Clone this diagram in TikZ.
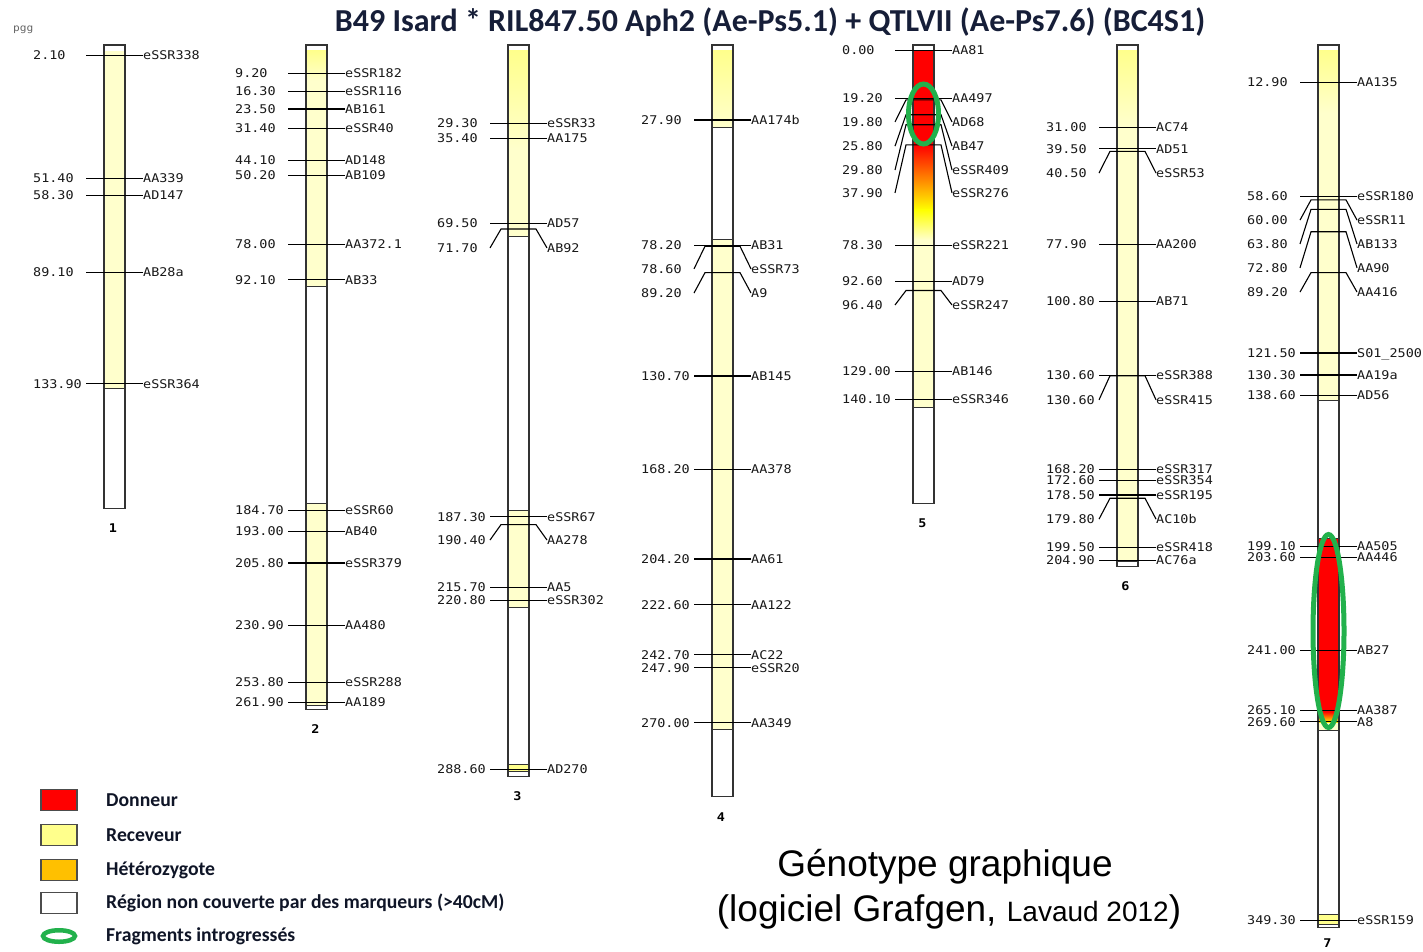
\documentclass[tikz,border=0pt]{standalone}
\usepackage{fontspec}
\setmainfont{Liberation Sans}
\newfontfamily\mkfont[FakeStretch=1.12]{DejaVu Sans Mono}
\newfontfamily\legfont{Carlito}
\usepackage{xcolor}
\usetikzlibrary{shapes.geometric}

\definecolor{recvcol}{RGB}{255,255,204}
\definecolor{recvtop}{RGB}{255,255,140}
\definecolor{donorcol}{RGB}{255,0,0}
\definecolor{hetcol}{RGB}{255,192,0}
\definecolor{fraggreen}{RGB}{34,177,76}
\definecolor{titlecol}{RGB}{22,30,56}

\tikzset{
  chrbox/.style={draw=black!80, line width=1.1pt},
  segline/.style={draw=black!80, line width=0.8pt},
  mk/.style={line width=1.1pt},
  cmlab/.style={font=\mkfont\fontsize{12}{12}\selectfont, text=black!90, anchor=west, inner sep=0pt, text height=8.5pt, text depth=0pt},
  mklab/.style={cmlab},
  chrnum/.style={font=\mkfont\bfseries\fontsize{12}{12}\selectfont},
  introg/.style={ellipse, draw=fraggreen, line width=5pt, inner sep=0pt},
  legbox/.style={draw=black!70, line width=1.2pt, minimum width=36pt, minimum height=21pt, inner sep=0pt},
  legtxt/.style={font=\legfont\bfseries\fontsize{19.7}{20}\selectfont, text=titlecol!70!black, anchor=west, inner sep=0pt},
}

% markers of one chromosome: value / label position / name
\newcommand\markers[2]{%
  \foreach \cv/\ly/\nm [count=\i] in {#2} {
    \node[cmlab] (v#1-\i) at (-71,\ly) {\cv};
    \node[mklab] (m#1-\i) at (39,\ly) {\nm};
    \draw[mk] ([xshift=53pt]v#1-\i.west) -- (-7,\cv) -- (28,\cv) -- (m#1-\i.west);
  }%
}

\begin{document}
\begin{tikzpicture}[x=1pt, y=-1pt]
\useasboundingbox[fill=white] (0,0) rectangle (1423,951);

\node[font=\legfont\bfseries\fontsize{32}{33}\selectfont, text=titlecol] (title) at (770,22)
  {B49 Isard * RIL847.50 Aph2 (Ae-Ps5.1) + QTLVII (Ae-Ps7.6) (BC4S1)};
\node[font=\mkfont\fontsize{10}{10}\selectfont, text=black!60, anchor=west, inner sep=0pt] (pgg) at (13,30) {pgg};

% chromosome 1
\begin{scope}[shift={(104,50.5)}, y=-2.49pt]
  \fill[recvcol] (0,0) rectangle (21,135.5);
  \draw[segline] (0,135.5) -- (21,135.5);
  \draw[chrbox] (0,-2.2) rectangle (21,184);
  \markers{1}{2.10/2.10/eSSR338, 51.40/51.40/AA339, 58.30/58.30/AD147, 89.10/89.10/AB28a, 133.90/133.90/eSSR364}
  \node[chrnum] (num1) at (9,192) {1};
\end{scope}

% chromosome 2
\begin{scope}[shift={(306,50.5)}, y=-2.49pt]
  \fill[recvcol] (0,0) rectangle (21,94.9);
  \shade[top color=recvtop, bottom color=recvcol] (0,0) rectangle (21,12);
  \draw[segline] (0,94.9) -- (21,94.9);
  \filldraw[recvcol, segline] (0,181.9) rectangle (21,263);
  \draw[chrbox] (0,-2.2) rectangle (21,264.6);
  \markers{2}{9.20/9.20/eSSR182, 16.30/16.30/eSSR116, 23.50/23.50/AB161, 31.40/31.40/eSSR40,
    44.10/44.10/AD148, 50.20/50.20/AB109, 78.00/78.00/AA372.1, 92.10/92.10/AB33,
    184.70/184.70/eSSR60, 193.00/193.00/AB40, 205.80/205.80/eSSR379, 230.90/230.90/AA480,
    253.80/253.80/eSSR288, 261.90/261.90/AA189}
  \node[chrnum] (num2) at (9.5,272.6) {2};
\end{scope}

% chromosome 3
\begin{scope}[shift={(508,50.5)}, y=-2.49pt]
  \fill[recvcol] (0,0) rectangle (21,74.8);
  \shade[top color=recvtop, bottom color=recvcol] (0,0) rectangle (21,40);
  \draw[segline] (0,74.8) -- (21,74.8);
  \filldraw[recvcol, segline] (0,184.8) rectangle (21,223.6);
  \filldraw[recvtop, segline] (0,286.5) rectangle (21,289.5);
  \draw[chrbox] (0,-2.2) rectangle (21,291.6);
  \markers{3}{29.30/29.30/eSSR33, 35.40/35.40/AA175, 69.50/69.50/AD57, 71.70/79.3/AB92,
    187.30/187.30/eSSR67, 190.40/196.6/AA278, 215.70/215.70/AA5, 220.80/220.80/eSSR302,
    288.60/288.60/AD270}
  \node[chrnum] (num3) at (9.5,299.6) {3};
\end{scope}

% chromosome 4
\begin{scope}[shift={(712,50.5)}, y=-2.49pt]
  \shade[top color=recvtop, bottom color=recvcol] (0,0) rectangle (21,31);
  \draw[segline] (0,31) -- (21,31);
  \filldraw[recvcol, segline] (0,75.7) rectangle (21,272.6);
  \draw[chrbox] (0,-2.2) rectangle (21,299.7);
  \markers{4}{27.90/27.90/AA174b, 78.20/78.20/AB31, 78.60/87.7/eSSR73, 89.20/97.4/A9,
    130.70/130.70/AB145, 168.20/168.20/AA378, 204.20/204.20/AA61, 222.60/222.60/AA122,
    242.70/242.70/AC22, 247.90/247.90/eSSR20, 270.00/270.00/AA349}
  \node[chrnum] (num4) at (9,307.7) {4};
\end{scope}

% chromosome 5
\begin{scope}[shift={(913,50.5)}, y=-2.49pt]
  \fill[donorcol] (0,0) rectangle (21,38);
  \shade[top color=donorcol, middle color=orange, bottom color=yellow] (0,38) rectangle (21,64);
  \shade[top color=yellow, bottom color=recvcol] (0,64) rectangle (21,76);
  \fill[recvcol] (0,76) rectangle (21,143.2);
  \draw[segline] (0,143.2) -- (21,143.2);
  \draw[chrbox] (0,-2.2) rectangle (21,182.1);
  \markers{5}{0.00/0.00/AA81, 19.20/19.20/AA497, 19.80/28.7/AD68, 25.80/38.4/AB47,
    29.80/48.0/eSSR409, 37.90/57.2/eSSR276, 78.30/78.30/eSSR221, 92.60/92.60/AD79,
    96.40/102.2/eSSR247, 129.00/129.00/AB146, 140.10/140.10/eSSR346}
  \node[chrnum] (num5) at (9.5,190) {5};
\end{scope}

% chromosome 6
\begin{scope}[shift={(1117,50.5)}, y=-2.49pt]
  \fill[recvcol] (0,0) rectangle (21,205);
  \shade[top color=recvtop, bottom color=recvcol] (0,0) rectangle (21,30);
  \draw[segline] (0,205) -- (21,205);
  \draw[chrbox] (0,-2.2) rectangle (21,207.3);
  \markers{6}{31.00/31.00/AC74, 39.50/39.50/AD51, 40.50/49.2/eSSR53, 77.90/77.90/AA200,
    100.80/100.80/AB71, 130.60/130.60/eSSR388, 130.60/140.3/eSSR415, 168.20/168.20/eSSR317,
    172.60/172.60/eSSR354, 178.50/178.50/eSSR195, 179.80/188.2/AC10b, 199.50/199.50/eSSR418,
    204.90/204.90/AC76a}
  \node[chrnum] (num6) at (8.5,215.3) {6};
\end{scope}

% chromosome 7
\begin{scope}[shift={(1318,50.5)}, y=-2.49pt]
  \fill[recvcol] (0,0) rectangle (21,140.4);
  \shade[top color=recvtop, bottom color=recvcol] (0,0) rectangle (21,25);
  \draw[segline] (0,140.4) -- (21,140.4);
  \fill[donorcol] (0,195.9) rectangle (21,265.5);
  \shade[top color=donorcol, middle color=orange, bottom color=yellow] (0,265.5) rectangle (21,270);
  \fill[recvcol] (0,270) rectangle (21,272.9);
  \draw[segline] (0,195.9) -- (21,195.9) (0,272.9) -- (21,272.9);
  \filldraw[recvtop, segline] (0,346.8) rectangle (21,350.8);
  \draw[chrbox] (0,-2.2) rectangle (21,352.3);
  \markers{7}{12.90/12.90/AA135, 58.60/58.60/eSSR180, 60.00/68.1/eSSR11, 63.80/77.7/AB133,
    72.80/87.3/AA90, 89.20/97.0/AA416, 121.50/121.50/S01\_2500, 130.30/130.30/AA19a,
    138.60/138.60/AD56, 199.10/199.10/AA505, 203.60/203.60/AA446, 241.00/241.00/AB27,
    265.10/265.10/AA387, 269.60/269.60/A8, 349.30/349.30/eSSR159}
  \node[chrnum] (num7) at (9.5,358.5) {7};
\end{scope}

% introgressed fragments
\node[introg, minimum width=30pt, minimum height=60pt] (frag5) at (923.5,114) {};
\node[introg, minimum width=31pt, minimum height=193pt] (frag7) at (1328.5,631) {};

% legend
\node[legbox, fill=donorcol] (lgdon) at (59,800) {};
\node[legtxt] (ltdon) at (106,800) {Donneur};
\node[legbox, fill=recvtop] (lgrec) at (59,835) {};
\node[legtxt] (ltrec) at (106,835) {Receveur};
\node[legbox, fill=hetcol] (lghet) at (59,870) {};
\node[legtxt] (lthet) at (106,870) {Hétérozygote};
\node[legbox, fill=white] (lgnon) at (59,903) {};
\node[legtxt] (ltnon) at (106,903) {Région non couverte par des marqueurs (>40cM)};
\node[introg, line width=4.5pt, minimum width=32pt, minimum height=11.5pt] (lgfrag) at (59,936) {};
\node[legtxt] (ltfrag) at (106,936) {Fragments introgressés};

% caption
\node[font=\fontsize{37}{40}\selectfont, anchor=base] (cap1) at (945,876) {Génotype graphique};
\node[font=\fontsize{37}{40}\selectfont, anchor=base] (cap2) at (949,921)
  {(logiciel Grafgen, {\fontsize{28}{30}\selectfont Lavaud 2012})};
\end{tikzpicture}
\end{document}
